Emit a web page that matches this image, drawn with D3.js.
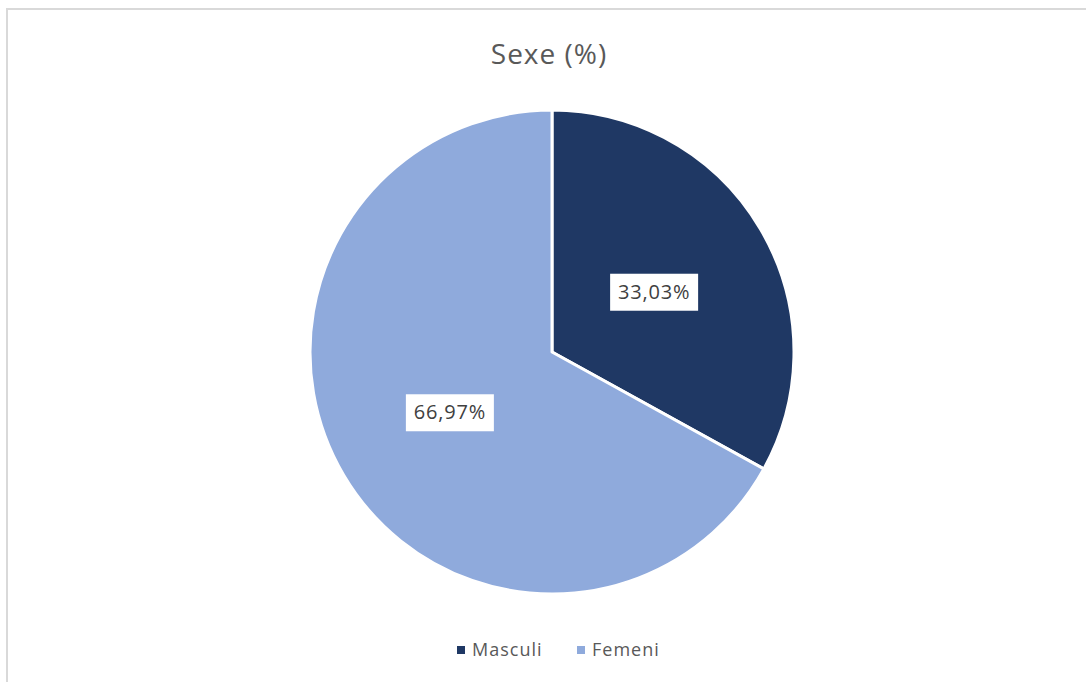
<!DOCTYPE html>
<html><head><meta charset="utf-8">
<script src="https://cdn.jsdelivr.net/npm/d3@7"></script>
<style>html,body{margin:0;padding:0;background:#fff;}svg{display:block;}</style>
</head><body>
<svg id="chart" width="1086" height="682"></svg>
<script>
const title = "Sexe (%)";
const categories = ["Masculi", "Femeni"];
const values = [33.03, 66.97];
const labels = ["33,03%", "66,97%"];
const colors = ["#1f3864", "#8faadc"];

const svg = d3.select("#chart");
const W = 1086, H = 682;
const font = "'Open Sans', sans-serif";

svg.append("rect").attr("x", 0).attr("y", 0).attr("width", W).attr("height", H).attr("fill", "#fff");
// chart area border (cut off right & bottom)
svg.append("rect").attr("x", 7).attr("y", 9).attr("width", W + 10).attr("height", H + 10)
  .attr("fill", "none").attr("stroke", "#d9d9d9").attr("stroke-width", 2);

svg.append("text").attr("x", 549).attr("y", 64).attr("text-anchor", "middle")
  .attr("font-family", font).attr("font-size", 28).attr("letter-spacing", 1)
  .attr("fill", "#595959").text(title);

const cx = 552, cy = 352, r = 242;
const data = categories.map((c, i) => ({c, v: values[i], label: labels[i], color: colors[i]}));
const pie = d3.pie().sort(null).value(d => d.v);
const arcs = pie(data);
const arc = d3.arc().innerRadius(0).outerRadius(r);
const labelArc = d3.arc().innerRadius(r * 0.49).outerRadius(r * 0.49);

const g = svg.append("g").attr("transform", `translate(${cx},${cy})`);
g.selectAll("path").data(arcs).join("path")
  .attr("d", arc).attr("fill", d => d.data.color)
  .attr("stroke", "#fff").attr("stroke-width", 3).attr("stroke-linejoin", "round");

const lg = g.selectAll("g.lbl").data(arcs).join("g").attr("class", "lbl")
  .attr("transform", d => `translate(${labelArc.centroid(d)})`);
lg.append("rect").attr("x", -44).attr("y", -18).attr("width", 88).attr("height", 37).attr("fill", "#fff");
lg.append("text").attr("text-anchor", "middle").attr("dy", "0.36em")
  .attr("font-family", font).attr("font-size", 20).attr("letter-spacing", 0.8)
  .attr("fill", "#404040")
  .text(d => d.data.label);

// legend
const legendX = [457, 577];
const leg = svg.selectAll("g.leg").data(data).join("g").attr("class", "leg")
  .attr("transform", (d, i) => `translate(${legendX[i]},650)`);
leg.append("rect").attr("x", 0).attr("y", -4).attr("width", 8).attr("height", 8).attr("fill", d => d.color);
leg.append("text").attr("x", 15).attr("dy", "0.35em")
  .attr("font-family", font).attr("font-size", 18).attr("letter-spacing", 1)
  .attr("fill", "#595959").text(d => d.c);
</script>
</body></html>
